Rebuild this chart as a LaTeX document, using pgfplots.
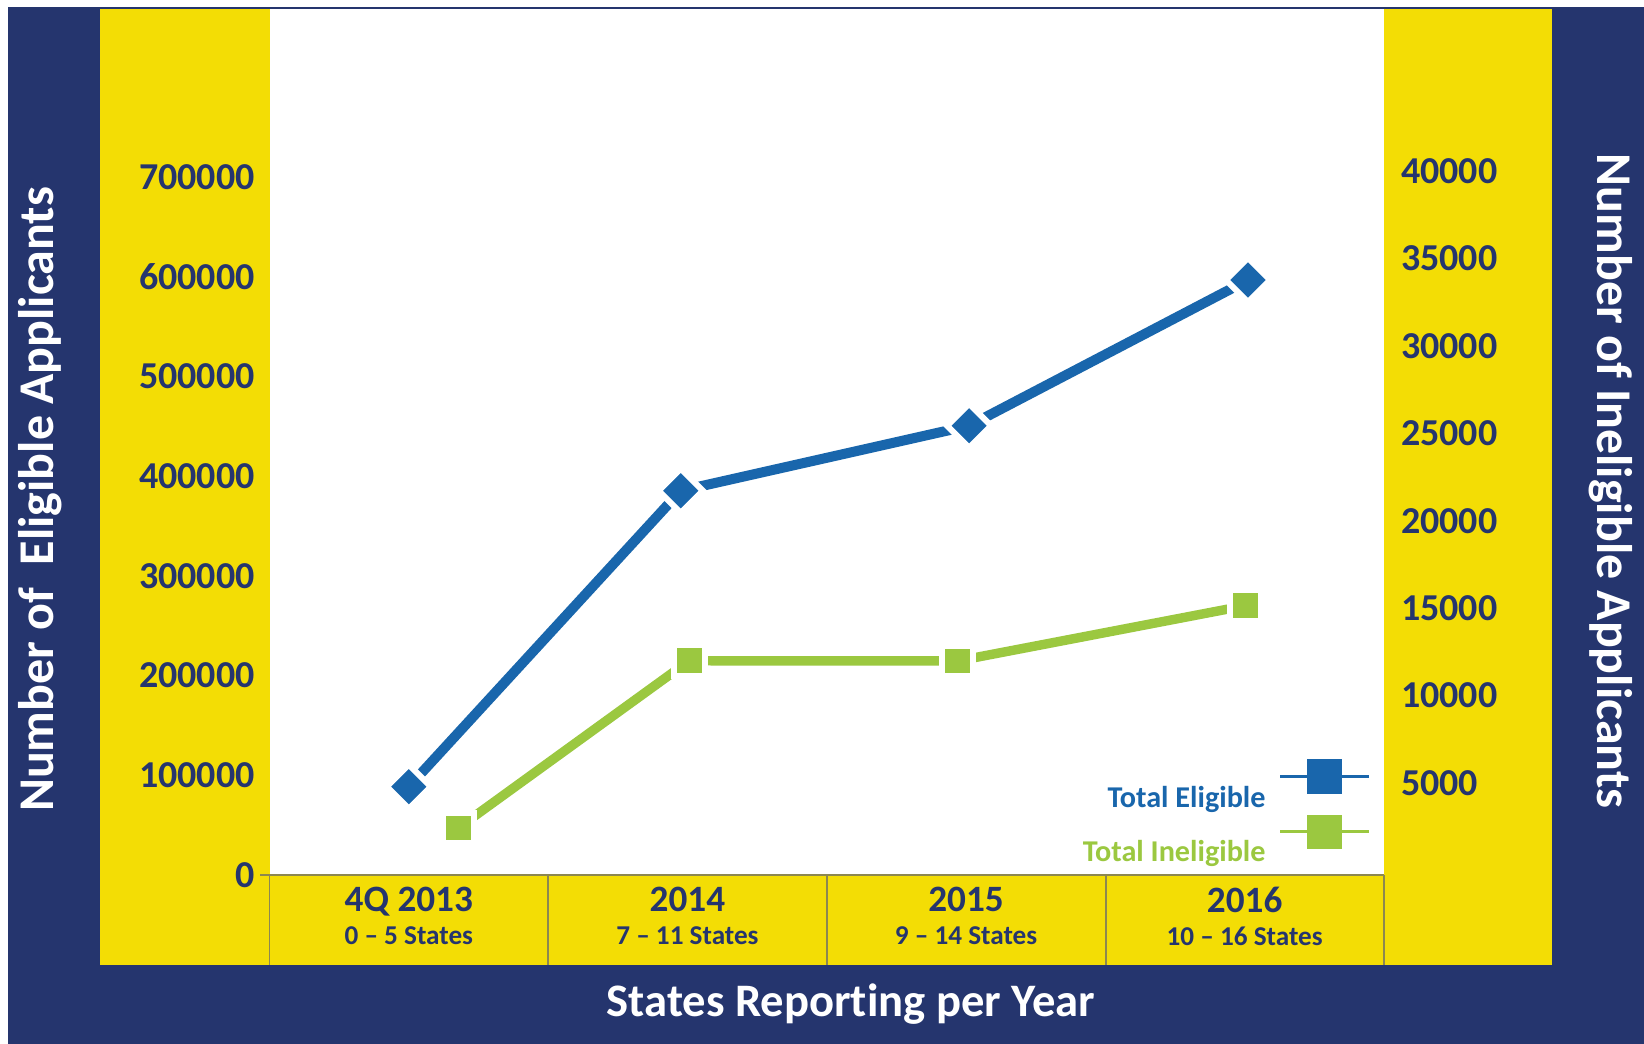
\documentclass[border=0pt]{standalone}
\usepackage{pgfplots}
\pgfplotsset{compat=1.18}
\usepackage{fontspec}
\setmainfont{Carlito}[Ligatures=NoCommon]
\definecolor{navy}{RGB}{37,53,110}
\definecolor{ylw}{RGB}{243,221,5}
\definecolor{blueC}{RGB}{25,102,172}
\definecolor{greenC}{RGB}{155,200,64}
\definecolor{divC}{RGB}{140,135,80}
\newcommand{\cat}[2]{{\fontsize{18.6}{18.6}\selectfont #1}\\{#2}}

\begin{document}
\begin{tikzpicture}
\path[use as bounding box] (0pt,0pt) rectangle (822pt,-522pt);
\begin{scope}[x=0.5pt,y=-0.5pt]
\fill[navy] (8,7) rectangle (1644,1044);
\fill[ylw] (100,8.5) rectangle (1552,965);
\fill[white] (269.5,8.5) rectangle (1384,875);
\draw[divC, line width=0.6pt] (260,875) -- (1384,875);
\foreach \x in {269.5,548,827,1106,1384} \draw[divC, line width=0.6pt] (\x,875) -- (\x,965);
\node[rotate=90, anchor=base, text=white, inner sep=0pt, font=\bfseries\fontsize{25}{25}\selectfont] at (54,499.5) {Number of\ \ Eligible Applicants};
\node[rotate=-90, anchor=base, text=white, inner sep=0pt, font=\bfseries\fontsize{25}{25}\selectfont] at (1597,481) {Number of Ineligible Applicants};
\node[anchor=base, text=white, inner sep=0pt, font=\bfseries\fontsize{23.3}{23.3}\selectfont] at (851,1016.7) {States Reporting per Year};
\end{scope}

\begin{axis}[
  at={(134.75pt,-437.5pt)}, anchor=south west,
  scale only axis, width=557.25pt, height=433.25pt,
  xmin=-0.5, xmax=3.5, ymin=0, ymax=868800,
  axis y line*=left, axis x line*=bottom,
  axis line style={draw=none},
  major tick length=0pt,
  xtick={0,1,2,3},
  xticklabels={\cat{4Q 2013}{0 – 5 States}, \cat{2014}{7 – 11 States}, \cat{2015}{9 – 14 States}, \cat{2016}{10 – 16 States}},
  xticklabel style={align=center, anchor=north, inner sep=0pt, yshift=-5.85pt, text=navy, font=\bfseries\fontsize{13.6}{16.5}\selectfont},
  ytick={0,100000,200000,300000,400000,500000,600000,700000},
  scaled y ticks=false,
  /pgf/number format/fixed,
  /pgf/number format/1000 sep={},
  /pgf/number format/assume math mode=true,
  yticklabel style={anchor=east, inner sep=0pt, xshift=-7.25pt, text=navy, font=\bfseries\fontsize{19}{19}\selectfont},
  legend plot pos=right,
  legend style={at={(0.9881,0.1345)}, anchor=north east, draw=none, fill=none, inner sep=0pt,
    cells={anchor=base}, nodes={inner sep=0pt, text depth=0pt}, column sep=6.5pt,
    font=\bfseries\fontsize{15.1}{15.1}\selectfont},
  clip=false,
]
\addplot[color=blueC, line width=5pt, mark=square*, mark size=7.8pt,
  mark options={rotate=45, fill=blueC, draw=white, line width=3pt},
  legend image code/.code={
    \draw[blueC, line width=1.6pt] (0pt,15.4pt) -- (14pt,15.4pt);
    \draw[blueC, line width=1.6pt] (30pt,15.4pt) -- (44.3pt,15.4pt);
    \fill[blueC] (16pt,9.15pt) rectangle (28.5pt,21.65pt);
  }]
  coordinates {(0,88530) (0.976,385300) (2.011,450500) (3.012,596600)};
\addlegendentry{\textcolor{blueC}{Total Eligible}}
\end{axis}

\begin{axis}[
  at={(134.75pt,-437.5pt)}, anchor=south west,
  scale only axis, width=557.25pt, height=433.25pt,
  xmin=-0.5, xmax=3.5, ymin=-257, ymax=49280,
  axis y line*=right, axis x line=none,
  axis line style={draw=none},
  major tick length=0pt,
  ytick={5000,10000,15000,20000,25000,30000,35000,40000},
  scaled y ticks=false,
  /pgf/number format/fixed,
  /pgf/number format/1000 sep={},
  /pgf/number format/assume math mode=true,
  yticklabel style={anchor=west, inner sep=0pt, xshift=8.3pt, text=navy, font=\bfseries\fontsize{19}{19}\selectfont},
  legend plot pos=right,
  legend style={at={(0.9881,0.0702)}, anchor=north east, draw=none, fill=none, inner sep=0pt,
    cells={anchor=base}, nodes={inner sep=0pt, text depth=0pt}, column sep=6.5pt,
    font=\bfseries\fontsize{15.1}{15.1}\selectfont},
  clip=false,
]
\addplot[color=greenC, line width=4.7pt, mark=square*, mark size=7.7pt,
  mark options={fill=greenC, draw=white, line width=3pt},
  legend image code/.code={
    \draw[greenC, line width=1.6pt] (0pt,15pt) -- (14pt,15pt);
    \draw[greenC, line width=1.6pt] (30pt,15pt) -- (44.3pt,15pt);
    \fill[greenC] (16pt,8.75pt) rectangle (28.5pt,21.25pt);
  }]
  coordinates {(0.177,2430) (1.006,11990) (1.969,11980) (3.003,15140)};
\addlegendentry{\textcolor{greenC}{Total Ineligible}}
\end{axis}
\end{tikzpicture}
\end{document}
